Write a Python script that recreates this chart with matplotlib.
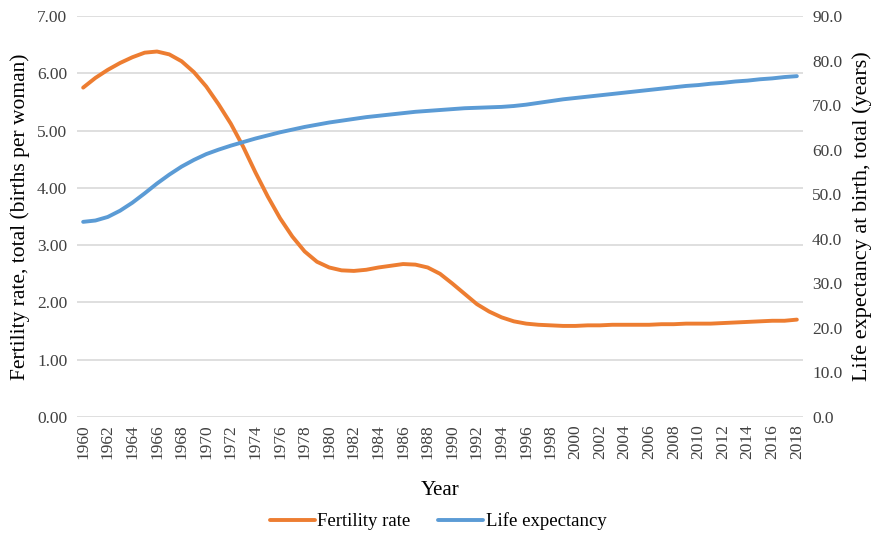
import matplotlib
matplotlib.use("Agg")
import matplotlib.pyplot as plt
import numpy as np

years = list(range(1960, 2019))
fertility = [5.75, 5.92, 6.06, 6.18, 6.28, 6.36, 6.38, 6.33, 6.21, 6.02,
             5.77, 5.46, 5.12, 4.72, 4.27, 3.85, 3.47, 3.15, 2.89, 2.71,
             2.61, 2.56, 2.55, 2.57, 2.61, 2.64, 2.67, 2.66, 2.61, 2.50,
             2.33, 2.15, 1.97, 1.84, 1.74, 1.67, 1.63, 1.61, 1.60, 1.59,
             1.59, 1.60, 1.60, 1.61, 1.61, 1.61, 1.61, 1.62, 1.62, 1.63,
             1.63, 1.63, 1.64, 1.65, 1.66, 1.67, 1.68, 1.68, 1.70]
life_exp = [43.8, 44.1, 44.9, 46.3, 48.1, 50.2, 52.4, 54.4, 56.2, 57.7,
            59.0, 60.0, 60.9, 61.7, 62.5, 63.2, 63.9, 64.5, 65.1, 65.6,
            66.1, 66.5, 66.9, 67.3, 67.6, 67.9, 68.2, 68.5, 68.7, 68.9,
            69.1, 69.3, 69.4, 69.5, 69.6, 69.8, 70.1, 70.5, 70.9, 71.3,
            71.6, 71.9, 72.2, 72.5, 72.8, 73.1, 73.4, 73.7, 74.0, 74.3,
            74.5, 74.8, 75.0, 75.3, 75.5, 75.8, 76.0, 76.3, 76.5]
left_ticks = [0, 1, 2, 3, 4, 5, 6, 7]
right_ticks = [0, 10, 20, 30, 40, 50, 60, 70, 80, 90]
x_ticks = list(range(1960, 2019, 2))

plt.rcParams['font.family'] = ['Liberation Serif', 'DejaVu Serif']

fig = plt.figure(figsize=(8.76, 5.34), dpi=100)
ax = fig.add_axes([77/876, 1-417/534, (803-77)/876, (417-16)/534])
ax2 = ax.twinx()

orange = '#ED7D31'
blue = '#5B9BD5'
tick_col = '#404040'

l1, = ax.plot(years, fertility, color=orange, lw=2.8, solid_capstyle='round', zorder=3)
l2, = ax2.plot(years, life_exp, color=blue, lw=2.8, solid_capstyle='round', zorder=3)

ax.set_xlim(1959.5, 2018.5)
ax.set_ylim(0, 7)
ax2.set_ylim(0, 90)
ax.set_yticks(left_ticks)
ax.set_yticklabels([f"{v:.2f}" for v in left_ticks], fontsize=12.5, color=tick_col)
ax2.set_yticks(right_ticks)
ax2.set_yticklabels([f"{v:.1f}" for v in right_ticks], fontsize=12.5, color=tick_col)
ax.set_xticks(x_ticks)
ax.set_xticklabels([str(y) for y in x_ticks], rotation=90, fontsize=12.5, color=tick_col)

ax.grid(axis='y', color='#d9d9d9', lw=1.2)
ax.set_axisbelow(True)
for a in (ax, ax2):
    for s in a.spines.values():
        s.set_visible(False)
    a.tick_params(length=0)
ax.tick_params(axis='y', pad=7)
ax2.tick_params(axis='y', pad=6.5)
ax.tick_params(axis='x', pad=5)

ax.set_ylabel("Fertility rate, total (births per woman)", fontsize=15.5, labelpad=5)
ax2.set_ylabel("Life expectancy at birth, total (years)", fontsize=16, labelpad=7)
ax.set_xlabel("Year", fontsize=15, labelpad=16)

fig.legend([l1, l2], ["Fertility rate", "Life expectancy"], loc='lower center',
           bbox_to_anchor=(0.5, -0.025), ncol=2, frameon=False, fontsize=13.5,
           handlelength=2.4, handletextpad=0.15, columnspacing=1.45)

fig.savefig("out.png", dpi=100)
